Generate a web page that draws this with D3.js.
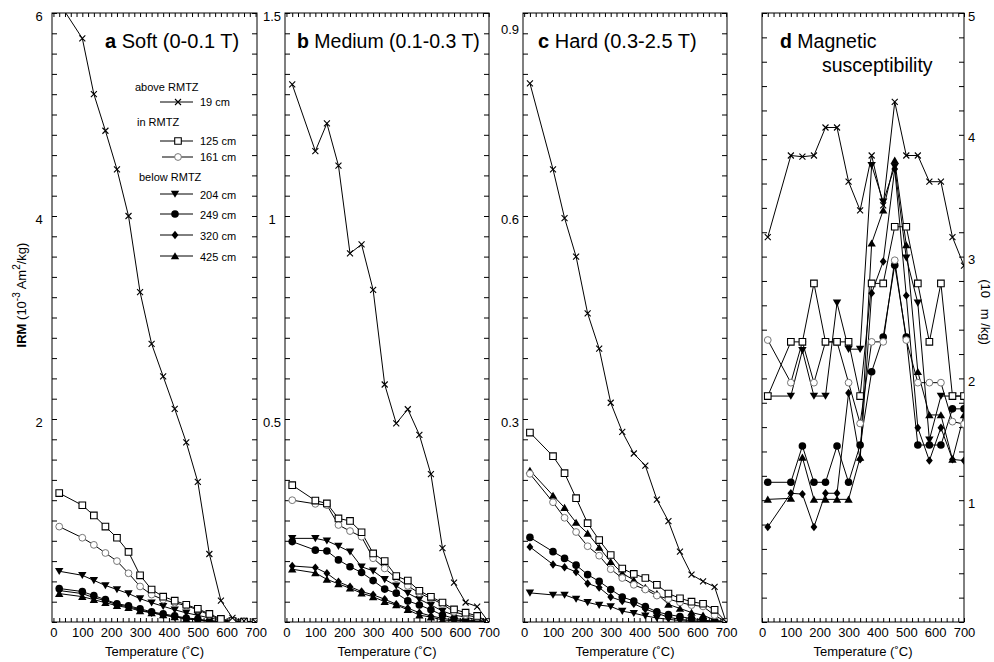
<!DOCTYPE html>
<html><head><meta charset="utf-8">
<script src="https://cdn.jsdelivr.net/npm/d3@7"></script>
<style>
body{margin:0;background:#fff}
text{font-family:"Liberation Sans",Arial,Helvetica,sans-serif;fill:#000}
</style>
</head><body>
<svg id="chart" width="994" height="662"></svg>
<script>
// ---------- data ----------
const temps = [20,100,140,180,220,260,300,340,380,420,460,500,540,580,620,660,700];
const seriesNames = ["19 cm","125 cm","161 cm","204 cm","249 cm","320 cm","425 cm"];
const seriesSymbols = ["cross","square","circleOpen","triangleDown","circle","diamond","triangleUp"];
const xTickLabels = [0,100,200,300,400,500,600,700];

// a Soft (0-0.1 T), IRM 10^-3 Am2/kg
const a19  = [6.1,5.75,5.20,4.84,4.46,4.00,3.25,2.74,2.42,2.10,1.77,1.38,0.67,0.21,0.04,0.01,0.0];
const a125 = [1.27,1.15,1.05,0.94,0.83,0.69,0.46,0.32,0.25,0.21,0.17,0.13,0.08,0.03,0.01,0.005,0];
const a161 = [0.94,0.83,0.76,0.68,0.60,0.48,0.35,0.27,0.22,0.19,0.16,0.12,0.07,0.02,0.01,0.005,0];
const a204 = [0.50,0.46,0.41,0.36,0.32,0.28,0.23,0.19,0.155,0.12,0.09,0.066,0.04,0.02,0.01,0.005,0];
const a249 = [0.33,0.30,0.26,0.22,0.18,0.16,0.13,0.10,0.08,0.06,0.04,0.03,0.01,0.005,0.003,0.002,0];
const a320 = [0.31,0.28,0.24,0.21,0.17,0.15,0.12,0.09,0.07,0.05,0.035,0.02,0.01,0.005,0.003,0.002,0];
const a425 = [0.28,0.25,0.22,0.19,0.16,0.14,0.11,0.09,0.07,0.05,0.03,0.02,0.01,0.004,0.002,0.001,0];
// b Medium (0.1-0.3 T)
const b19  = [1.324,1.160,1.228,1.124,0.908,0.930,0.818,0.585,0.489,0.524,0.461,0.364,0.182,0.097,0.048,0.038,0];
const b125 = [0.337,0.299,0.292,0.255,0.249,0.221,0.169,0.150,0.113,0.102,0.077,0.062,0.048,0.031,0.023,0.015,0];
const b161 = [0.300,0.291,0.288,0.239,0.224,0.210,0.157,0.132,0.108,0.089,0.071,0.058,0.044,0.025,0.017,0.012,0];
const b204 = [0.206,0.206,0.200,0.187,0.173,0.136,0.126,0.105,0.089,0.071,0.056,0.042,0.027,0.017,0.012,0.005,0];
const b249 = [0.198,0.177,0.175,0.153,0.136,0.122,0.102,0.081,0.071,0.052,0.042,0.030,0.017,0.009,0.005,0.003,0];
const b320 = [0.138,0.134,0.120,0.099,0.087,0.075,0.067,0.056,0.044,0.034,0.023,0.015,0.009,0.005,0.003,0.002,0];
const b425 = [0.130,0.121,0.105,0.094,0.083,0.071,0.062,0.050,0.042,0.030,0.017,0.012,0.005,0.003,0.002,0.001,0];
// c Hard (0.3-2.5 T)
const c19  = [0.796,0.669,0.597,0.540,0.456,0.404,0.324,0.281,0.249,0.231,0.181,0.149,0.104,0.070,0.060,0.052,0];
const c125 = [0.280,0.245,0.220,0.183,0.146,0.121,0.099,0.079,0.071,0.065,0.055,0.042,0.035,0.030,0.027,0.018,0];
const c161 = [0.219,0.177,0.154,0.133,0.112,0.098,0.078,0.065,0.055,0.048,0.039,0.034,0.029,0.025,0.023,0.010,0];
const c204 = [0.043,0.040,0.040,0.034,0.029,0.025,0.023,0.016,0.013,0.009,0.006,0.004,0.002,0.001,0.001,0,0];
const c249 = [0.125,0.104,0.094,0.084,0.070,0.060,0.048,0.037,0.031,0.023,0.015,0.011,0.008,0.005,0.003,0.001,0];
const c320 = [0.111,0.085,0.081,0.074,0.057,0.051,0.037,0.031,0.027,0.019,0.013,0.007,0.004,0.002,0.001,0.001,0];
const c425 = [0.224,0.187,0.169,0.147,0.131,0.110,0.089,0.072,0.062,0.051,0.042,0.026,0.020,0.014,0.010,0.003,0];
// d Magnetic susceptibility
const d19  = [3.16,3.83,3.82,3.83,4.06,4.06,3.615,3.38,3.83,3.42,4.27,3.83,3.83,3.615,3.615,3.16,2.925];
const d125 = [1.855,2.30,2.30,2.78,2.30,2.30,2.30,1.855,2.78,2.78,3.245,3.245,2.78,2.30,2.78,1.855,1.855];
const d161 = [2.315,1.965,2.30,1.965,2.30,2.30,1.965,1.63,2.30,2.30,2.97,2.315,1.965,1.965,1.965,1.645,1.625];
const d204 = [1.855,1.855,2.23,1.855,1.855,2.62,2.24,2.24,3.75,3.45,3.74,2.99,2.62,1.495,1.855,1.855,1.855];
const d249 = [1.147,1.147,1.445,1.147,1.147,1.445,1.147,1.453,2.055,2.34,2.93,2.34,1.453,1.453,1.453,1.75,1.75];
const d320 = [0.78,1.057,1.05,0.78,1.057,1.057,1.88,1.335,2.70,2.96,3.72,2.68,1.595,1.325,1.595,1.335,1.325];
const d425 = [1.007,1.015,1.352,1.007,1.007,1.007,1.007,1.35,3.11,3.38,3.79,3.095,2.055,1.70,1.70,1.335,1.70];

const aLabels = [2,4,6], bLabels = [0.5,1,1.5], cLabels = [0.3,0.6,0.9], dLabels = [1,2,3,4,5];

// ---------- layout ----------
const svg = d3.select("#chart");
const TOP = 13, BOTTOM = 622;
const panels = [
  {id:"a", x0:52,  x1:257, xd:[-5,705], ymax:6,   minor:0.2,  labels:aLabels, side:"left",
   series:[a19,a125,a161,a204,a249,a320,a425], bold:"a", title:" Soft (0-0.1 T)", tx:105, ty:48, fs:20},
  {id:"b", x0:285, x1:489, xd:[-5,701], ymax:1.5, minor:0.05, labels:bLabels, side:"left",
   series:[b19,b125,b161,b204,b249,b320,b425], bold:"b", title:" Medium (0.1-0.3 T)", tx:297, ty:48, fs:19.5},
  {id:"c", x0:523, x1:727, xd:[-4,703], ymax:0.9, minor:0.03, labels:cLabels, side:"left",
   series:[c19,c125,c161,c204,c249,c320,c425], bold:"c", title:"  Hard (0.3-2.5 T)", tx:538, ty:48, fs:20},
  {id:"d", x0:762, x1:964, xd:[0,700],  ymax:5,   minor:0.2,  labels:dLabels, side:"right",
   series:[d19,d125,d161,d204,d249,d320,d425], bold:"d", title:" Magnetic", tx:780, ty:48, fs:19.5}
];

const markerPaths = {
  cross:"M-3,-3L3,3M-3,3L3,-3",
  square:"M-3.3,-3.3H3.3V3.3H-3.3Z",
  triangleDown:"M-4.2,-3.3H4.2L0,3.8Z",
  diamond:"M0,-4.2L3.4,0L0,4.2L-3.4,0Z",
  triangleUp:"M-4.2,3.3H4.2L0,-3.8Z"
};
function drawMarker(g, type, x, y) {
  const t = `translate(${x},${y})`;
  if (type === "circle") {
    g.append("circle").attr("transform", t).attr("r", 3.8).attr("fill", "#000");
  } else if (type === "circleOpen") {
    g.append("circle").attr("transform", t).attr("r", 3.4).attr("fill", "#fff")
      .attr("stroke", "#777").attr("stroke-width", 1);
  } else if (type === "square") {
    g.append("path").attr("transform", t).attr("d", markerPaths.square).attr("fill", "#fff")
      .attr("stroke", "#000").attr("stroke-width", 1.1);
  } else if (type === "cross") {
    g.append("path").attr("transform", t).attr("d", markerPaths.cross).attr("fill", "none")
      .attr("stroke", "#000").attr("stroke-width", 1.1);
  } else {
    g.append("path").attr("transform", t).attr("d", markerPaths[type]).attr("fill", "#000");
  }
}

panels.forEach(p => {
  const x = d3.scaleLinear().domain(p.xd).range([p.x0, p.x1]);
  const y = d3.scaleLinear().domain([0, p.ymax]).range([BOTTOM, TOP]);
  const g = svg.append("g");

  svg.append("clipPath").attr("id", "clip-" + p.id)
    .append("rect").attr("x", p.x0).attr("y", TOP).attr("width", p.x1 - p.x0).attr("height", BOTTOM - TOP);

  // minor ticks (inward) on all four sides
  const xt = d3.range(0, 701, 20);
  const yt = d3.range(0, p.ymax + 1e-9, p.minor).map(v => +v.toFixed(4));
  const tickStyle = sel => { sel.select(".domain").remove(); sel.selectAll("line").attr("stroke", "#000"); };
  g.append("g").attr("transform", `translate(0,${BOTTOM})`)
    .call(d3.axisBottom(x).tickValues(xt).tickSize(-4).tickFormat("")).call(tickStyle);
  g.append("g").attr("transform", `translate(0,${TOP})`)
    .call(d3.axisTop(x).tickValues(xt).tickSize(-4).tickFormat("")).call(tickStyle);
  g.append("g").attr("transform", `translate(${p.x0},0)`)
    .call(d3.axisLeft(y).tickValues(yt).tickSize(-5).tickFormat("")).call(tickStyle);
  g.append("g").attr("transform", `translate(${p.x1},0)`)
    .call(d3.axisRight(y).tickValues(yt).tickSize(-5).tickFormat("")).call(tickStyle);

  // frame
  g.append("rect").attr("x", p.x0).attr("y", TOP).attr("width", p.x1 - p.x0).attr("height", BOTTOM - TOP)
    .attr("fill", "none").attr("stroke", "#000").attr("stroke-width", 1);

  // x labels
  const xl = g.append("g").attr("transform", `translate(0,${BOTTOM})`)
    .call(d3.axisBottom(x).tickValues(xTickLabels).tickSize(0).tickPadding(6).tickFormat(d3.format("d")));
  xl.select(".domain").remove();
  xl.selectAll("text").attr("font-size", 13).attr("font-family", '"Liberation Sans",Arial,sans-serif').attr("fill", "#000");

  // y labels
  let yl;
  if (p.side === "left") {
    yl = g.append("g").attr("transform", `translate(${p.x0},0)`)
      .call(d3.axisLeft(y).tickValues(p.labels).tickSize(0).tickFormat(d => String(d)));
    yl.selectAll("text").attr("text-anchor", "middle").attr("x", -13).attr("dy", "0.6em");
  } else {
    yl = g.append("g").attr("transform", `translate(${p.x1},0)`)
      .call(d3.axisRight(y).tickValues(p.labels).tickSize(0).tickPadding(4).tickFormat(d => String(d)));
    yl.selectAll("text").attr("dy", "0.55em");
  }
  yl.select(".domain").remove();
  yl.selectAll("text").attr("font-size", 13).attr("font-family", '"Liberation Sans",Arial,sans-serif').attr("fill", "#000");
  if (p.id === "c") yl.selectAll("text").filter(d => d === 0.9).attr("dy", "1.6em");

  // x axis title
  g.append("text").attr("x", (p.x0 + p.x1) / 2).attr("y", 656).attr("text-anchor", "middle")
    .attr("font-size", 13).text("Temperature (˚C)");

  // data
  const plot = g.append("g").attr("clip-path", `url(#clip-${p.id})`);
  const line = d3.line().x((d, i) => x(temps[i])).y(d => y(d));
  p.series.forEach(s => {
    plot.append("path").datum(s).attr("d", line).attr("fill", "none")
      .attr("stroke", "#000").attr("stroke-width", 1);
  });
  for (let k = p.series.length - 1; k >= 0; k--) {
    p.series[k].forEach((v, i) => drawMarker(plot, seriesSymbols[k], x(temps[i]), y(v)));
  }

  // title
  const t = g.append("text").attr("x", p.tx).attr("y", p.ty).attr("font-size", p.fs);
  t.append("tspan").attr("font-weight", "bold").text(p.bold);
  t.append("tspan").text(p.title);
  if (p.id === "d") {
    g.append("text").attr("x", 822).attr("y", 72).attr("font-size", p.fs).text("susceptibility");
  }
});

// ---------- legend (panel a) ----------
const leg = svg.append("g").attr("font-size", 11);
const legendHeads = [{t:"above RMTZ", x:135, y:91}, {t:"in RMTZ", x:137, y:126}, {t:"below RMTZ", x:139, y:181}];
legendHeads.forEach(h => leg.append("text").attr("x", h.x).attr("y", h.y).text(h.t));
const legendRows = [
  {y:102, l0:160, mx:178}, {y:141, l0:160, mx:178}, {y:157, l0:162, mx:178},
  {y:194, l0:160, mx:175}, {y:214, l0:160, mx:175}, {y:235, l0:160, mx:175}, {y:256, l0:160, mx:175}
];
legendRows.forEach((r, k) => {
  leg.append("line").attr("x1", r.l0).attr("x2", 193).attr("y1", r.y).attr("y2", r.y)
    .attr("stroke", "#000").attr("stroke-width", 1);
  drawMarker(leg, seriesSymbols[k], r.mx, r.y);
  leg.append("text").attr("x", 200).attr("y", r.y + (k >= 3 ? 5 : 4)).text(seriesNames[k]);
});

// ---------- axis titles ----------
const yl = svg.append("text").attr("transform", "translate(26,295) rotate(-90)")
  .attr("text-anchor", "middle").attr("font-size", 13);
yl.append("tspan").attr("font-weight", "bold").text("IRM");
yl.append("tspan").text(" (10");
yl.append("tspan").attr("dy", -6).attr("font-size", 10).text("-3");
yl.append("tspan").attr("dy", 6).text(" Am");
yl.append("tspan").attr("dy", -6).attr("font-size", 10).text("2");
yl.append("tspan").attr("dy", 6).text("/kg)");

// right axis title: only the part visible inside the picture (superscripts fall outside)
svg.append("text").attr("transform", "translate(981,312) rotate(90)")
  .attr("text-anchor", "middle").attr("font-size", 13)
  .attr("xml:space", "preserve").style("white-space", "pre")
  .text("(10   m /kg)");
</script>
</body></html>
